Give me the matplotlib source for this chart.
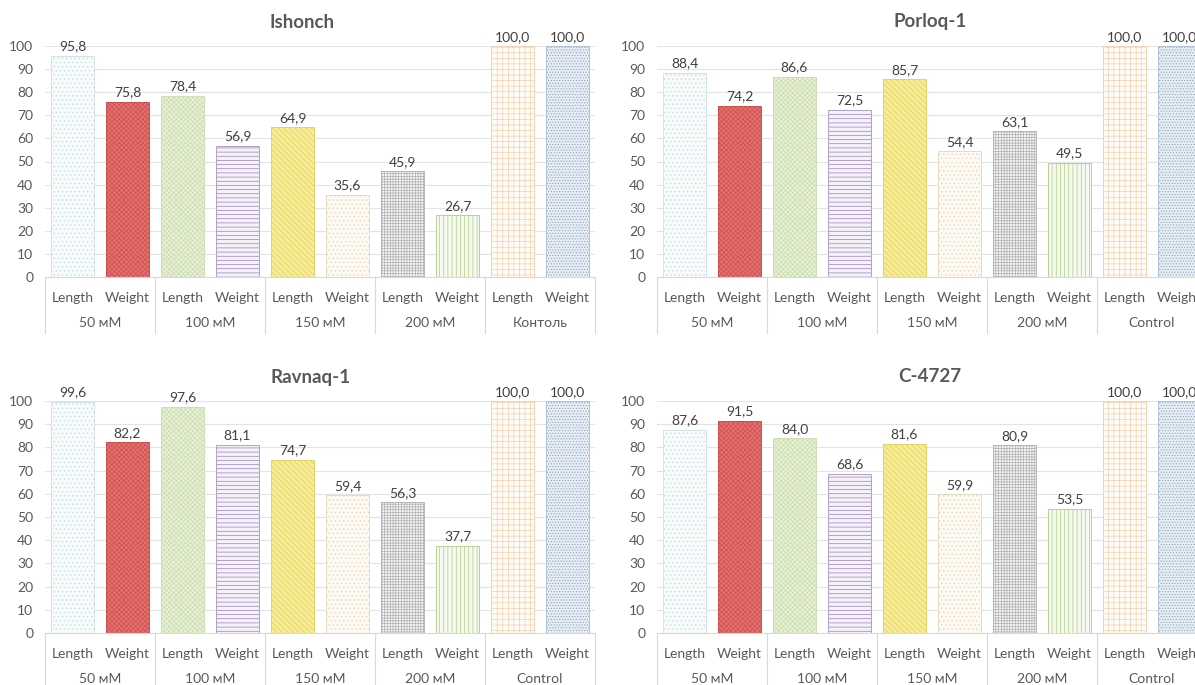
import matplotlib
matplotlib.use("Agg")
import matplotlib.pyplot as plt
from matplotlib.transforms import blended_transform_factory

plt.rcParams['font.family'] = ['Lato', 'DejaVu Sans']
plt.rcParams['hatch.linewidth'] = 0.45

# ---- data ----
titles = ["Ishonch", "Porloq-1", "Ravnaq-1", "C-4727"]
sub_labels = ["Length", "Weight"] * 5
groups_ishonch = ["50 мМ", "100 мМ", "150 мМ", "200 мМ", "Контоль"]
groups_other = ["50 мМ", "100 мМ", "150 мМ", "200 мМ", "Control"]
ishonch = [95.8, 75.8, 78.4, 56.9, 64.9, 35.6, 45.9, 26.7, 100.0, 100.0]
porloq1 = [88.4, 74.2, 86.6, 72.5, 85.7, 54.4, 63.1, 49.5, 100.0, 100.0]
ravnaq1 = [99.6, 82.2, 97.6, 81.1, 74.7, 59.4, 56.3, 37.7, 100.0, 100.0]
c4727 = [87.6, 91.5, 84.0, 68.6, 81.6, 59.9, 80.9, 53.5, 100.0, 100.0]
yticks = list(range(0, 101, 10))

# ---- styles (face, hatch colour, hatch, outline) ----
styles = [
    ("#f7fbfb", "#c2dada", "....", "#d2e4e4"),
    ("#e66f6f", "#c9504d", "xxxxxxx", "#c9504d"),
    ("#e8f0da", "#c8dca6", "xxxxxxx", "#cfdfb3"),
    ("#f5f1f9", "#8e74ae", "----", "#b3a1c9"),
    ("#f6ec95", "#dccd55", "\\\\\\\\\\\\", "#e2d46a"),
    ("#fdfaf3", "#dfd4b8", "....", "#e6dcc3"),
    ("#f3f3f3", "#adadad", "++++++", "#b8b8b8"),
    ("#f5f9ef", "#a9c777", "||||", "#b9d191"),
    ("#fffcf7", "#f1cda6", "+++", "#f1d3b2"),
    ("#e6edf4", "#8aa3bb", "......", "#b0c2d3"),
]

W, H = 1195, 685
fig = plt.figure(figsize=(W / 100, H / 100), dpi=100)

panels = [
    (titles[0], ishonch, groups_ishonch, 45, 46, 277, 302, 22),
    (titles[1], porloq1, groups_other, 657, 46, 277, 930, 22),
    (titles[2], ravnaq1, groups_other, 45, 401, 633, 311, 377),
    (titles[3], c4727, groups_other, 657, 401, 633, 930, 377),
]

txtc = "#595959"
for title, vals, groups, x0, ytop, ybot, tx, ty in panels:
    ax = fig.add_axes([x0 / W, (H - ybot) / H, 550 / W, (ybot - ytop) / H])
    n = len(vals)
    xs = list(range(n))
    for i, v in enumerate(vals):
        fc, hc, hatch, oc = styles[i]
        ax.bar(xs[i], v, width=0.78, color=fc, edgecolor=hc, hatch=hatch,
               linewidth=0, zorder=2)
        ax.bar(xs[i], v, width=0.78, fill=False, edgecolor=oc, linewidth=0.7,
               zorder=3)
        ax.text(xs[i], v + 2.3, f"{v:.1f}".replace('.', ','), ha='center',
                va='baseline', fontsize=10, color="#404040", clip_on=False)
    ax.set_xlim(-0.5, n - 0.5)
    ax.set_ylim(0, 100)
    ax.set_yticks(yticks)
    ax.set_yticklabels([str(t) for t in yticks], fontsize=10, color=txtc)
    ax.yaxis.grid(True, color="#e3e3e3", linewidth=0.8, zorder=0)
    ax.set_axisbelow(True)
    ax.set_xticks(xs)
    ax.set_xticklabels(sub_labels, fontsize=10, color=txtc)
    ax.tick_params(axis='both', length=0)
    ax.tick_params(axis='x', pad=10.5)
    ax.tick_params(axis='y', pad=8.5)
    for s in ['top', 'right', 'left']:
        ax.spines[s].set_visible(False)
    ax.spines['bottom'].set_color("#d9d9d9")
    ax.spines['bottom'].set_linewidth(0.8)
    tr = blended_transform_factory(ax.transData, ax.transAxes)
    px = 1.0 / (ybot - ytop)
    for g, name in enumerate(groups):
        ax.text(2 * g + 0.5, -46 * px, name, transform=tr, ha='center',
                va='center', fontsize=10, color=txtc, clip_on=False)
    for b in range(0, 6):
        ax.plot([2 * b - 0.5, 2 * b - 0.5], [0, -56 * px], transform=tr,
                color="#d9d9d9", linewidth=0.8, clip_on=False)
    fig.text(tx / W, 1 - ty / H, title, fontsize=13.5, fontweight='bold',
             color="#595959", ha='center', va='center')

fig.savefig("out.png", dpi=100)
